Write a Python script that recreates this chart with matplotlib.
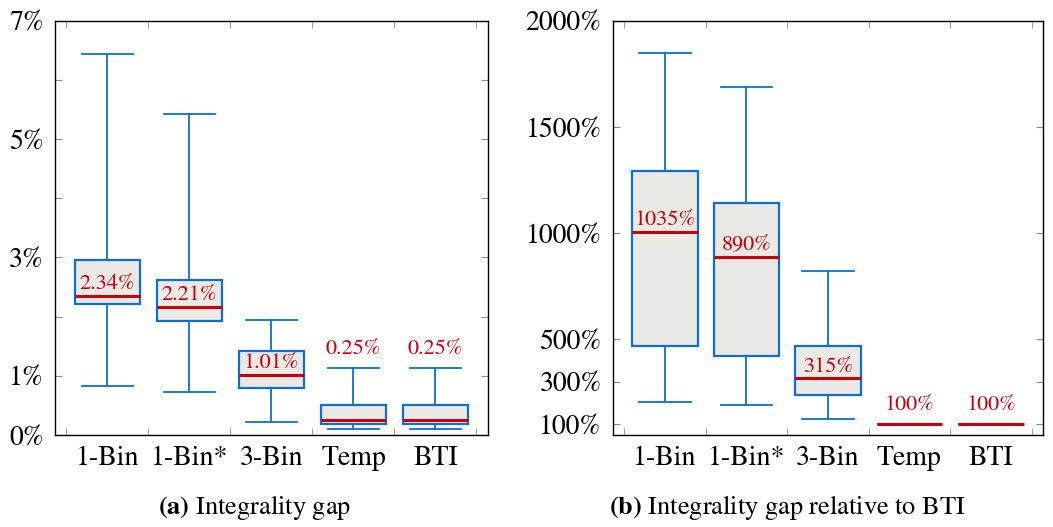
import matplotlib
matplotlib.use("Agg")
import matplotlib.pyplot as plt
from matplotlib.ticker import FixedLocator, FixedFormatter, NullFormatter

plt.rcParams["font.family"] = ["STIXGeneral", "DejaVu Serif"]
plt.rcParams["mathtext.fontset"] = "stix"

methods = ["1-Bin", "1-Bin*", "3-Bin", "Temp", "BTI"]

# (a) integrality gap, in %
gap_low = [0.82, 0.73, 0.22, 0.10, 0.10]
gap_q1 = [2.21, 1.92, 0.80, 0.19, 0.19]
gap_med = [2.35, 2.16, 1.02, 0.25, 0.25]
gap_q3 = [2.96, 2.62, 1.42, 0.50, 0.50]
gap_high = [6.43, 5.43, 1.94, 1.14, 1.14]
gap_labels = ["2.34%", "2.21%", "1.01%", "0.25%", "0.25%"]

# (b) integrality gap relative to BTI, in %
rel_low = [206, 190, 127, 100, 100]
rel_q1 = [469, 422, 236, 100, 100]
rel_med = [1006, 890, 316, 100, 100]
rel_q3 = [1291, 1141, 469, 100, 100]
rel_high = [1848, 1690, 821, 100, 100]
rel_labels = ["1035%", "890%", "315%", "100%", "100%"]

# label goes above the upper whisker instead of the median
label_outside = [False, False, False, True, True]

BLUE = "#0e6fcc"
RED = "#c4000f"
FILL = "#ebe9e4"
GRAY = "#8a8a8a"


def draw(ax, low, q1, med, q3, high, labels, yticks, ylabels, ylim):
    stats = []
    for i in range(len(methods)):
        stats.append({"whislo": low[i], "q1": q1[i], "med": med[i],
                      "q3": q3[i], "whishi": high[i], "label": methods[i]})
    pos = list(range(1, len(methods) + 1))
    ax.bxp(stats, positions=pos, widths=0.8, showfliers=False,
           patch_artist=True,
           boxprops=dict(facecolor=FILL, edgecolor=BLUE, linewidth=1.6),
           whiskerprops=dict(color=BLUE, linewidth=1.3),
           capprops=dict(color=BLUE, linewidth=1.3),
           capwidths=0.63,
           medianprops=dict(color=RED, linewidth=2.2, zorder=5))

    for i, txt in enumerate(labels):
        if label_outside[i]:
            ax.annotate(txt, (pos[i], high[i]), xytext=(0, 10),
                        textcoords="offset points", ha="center",
                        va="baseline", color=RED, fontsize=16)
        else:
            ax.annotate(txt, (pos[i], med[i]), xytext=(0, 5),
                        textcoords="offset points", ha="center",
                        va="baseline", color=RED, fontsize=16)

    ax.set_xlim(0.36, 5.64)
    ax.set_ylim(*ylim)
    ax.xaxis.set_major_locator(FixedLocator(pos))
    ax.xaxis.set_major_formatter(FixedFormatter(methods))
    ax.xaxis.set_minor_locator(FixedLocator([p - 0.5 for p in pos] + [pos[-1] + 0.5]))
    ax.xaxis.set_minor_formatter(NullFormatter())
    ax.tick_params(axis="x", which="major", length=0, pad=8, labelsize=20)
    ax.tick_params(axis="x", which="minor", direction="in", length=5,
                   color=GRAY, top=True, bottom=True)
    ax.yaxis.set_major_locator(FixedLocator(yticks))
    ax.yaxis.set_major_formatter(FixedFormatter(ylabels))
    ax.tick_params(axis="y", direction="in", length=5, color=GRAY,
                   left=True, right=True, pad=8, labelsize=20)
    for s in ax.spines.values():
        s.set_linewidth(1.0)


fig = plt.figure(figsize=(10.53, 5.27), dpi=100)
ax1 = fig.add_axes([0.0522, 0.1746, 0.4112, 0.786])
ax2 = fig.add_axes([0.5819, 0.1746, 0.4087, 0.786])

draw(ax1, gap_low, gap_q1, gap_med, gap_q3, gap_high, gap_labels,
     [0, 1, 2, 3, 4, 5, 6, 7], ["0%", "1%", "", "3%", "", "5%", "", "7%"], (0, 7))
draw(ax2, rel_low, rel_q1, rel_med, rel_q3, rel_high, rel_labels,
     [100, 300, 500, 1000, 1500, 2000],
     ["100%", "300%", "500%", "1000%", "1500%", "2000%"], (50, 2000))

fig.text(255 / 1053, 19 / 527, r"$\mathbf{(a)}$ Integrality gap",
         ha="center", va="center", fontsize=19)
fig.text(787 / 1053, 19 / 527, r"$\mathbf{(b)}$ Integrality gap relative to BTI",
         ha="center", va="center", fontsize=19)

fig.savefig("out.png", dpi=100)
